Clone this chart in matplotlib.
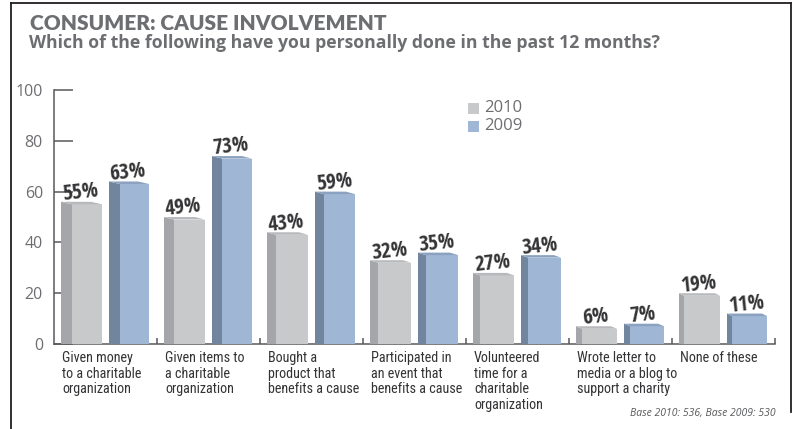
import matplotlib
matplotlib.use("Agg")
import matplotlib.pyplot as plt
import matplotlib.font_manager as fm
from matplotlib.font_manager import FontProperties
from matplotlib.patches import Polygon, Rectangle
from matplotlib.lines import Line2D
import matplotlib.transforms as mtransforms

# ---- data ----
categories = [
    "Given money\nto a charitable\norganization",
    "Given items to\na charitable\norganization",
    "Bought a\nproduct that\nbenefits a cause",
    "Participated in\nan event that\nbenefits a cause",
    "Volunteered\ntime for a\ncharitable\norganization",
    "Wrote letter to\nmedia or a blog to\nsupport a charity",
    "None of these",
]
values_2010 = [55, 49, 43, 32, 27, 6, 19]
values_2009 = [63, 73, 59, 35, 34, 7, 11]
series_names = ["2010", "2009"]
yticks = [0, 20, 40, 60, 80, 100]

title = "CONSUMER: CAUSE INVOLVEMENT"
subtitle = "Which of the following have you personally done in the past 12 months?"
footnote = "Base 2010: 536, Base 2009: 530"

# ---- styling ----
W, H = 793, 429
DPI = 100
GRAY_TXT = "#6d6e71"
DARK_TXT = "#333335"
AXIS_COL = "#58595b"
COLORS = {
    "2010": dict(front="#c8c9cb", side="#a5a6a9", top="#b8b9bc"),
    "2009": dict(front="#9fb7d5", side="#71859e", top="#8aa1bf"),
}


def narrow_font(bold):
    """Pick an installed condensed sans face, falling back to Roboto."""
    prefs = ["liberation sans narrow", "noto sans", "open sans", "roboto",
             "dejavu sans", "lato", "inter"]
    best = None
    for f in fm.fontManager.ttflist:
        name = f.name.lower()
        path = f.fname.lower()
        if "mono" in name or "serif" in name or "cjk" in name or "italic" in path \
                or "oblique" in path:
            continue
        cond = (str(f.stretch) in ("condensed", "semi-condensed")
                or "narrow" in name or "narrow" in path
                or ("condensed" in path and "extra" not in path and "ultra" not in path))
        if not cond:
            continue
        w = f.weight if isinstance(f.weight, int) else (700 if "bold" in str(f.weight) else 400)
        if bold and not (600 <= w <= 800):
            continue
        if not bold and w != 400:
            continue
        rank = next((k for k, p in enumerate(prefs) if name.startswith(p)), len(prefs))
        if best is None or rank < best[0]:
            best = (rank, f.fname)
    if best:
        return FontProperties(fname=best[1])
    return FontProperties(family=["Roboto", "DejaVu Sans"],
                          weight="bold" if bold else "normal")


NARROW = narrow_font(False)
NARROW_B = narrow_font(True)
SANS = FontProperties(family=["Open Sans", "DejaVu Sans"])
SANS_B = FontProperties(family=["Open Sans", "DejaVu Sans"], weight="bold")
SANS_I = FontProperties(family=["Open Sans", "DejaVu Sans"], style="italic")
HEAVY = FontProperties(family=["Lato", "Open Sans", "DejaVu Sans"], weight="heavy")

fig = plt.figure(figsize=(W / DPI, H / DPI), dpi=DPI)
fig.patch.set_facecolor("white")
renderer = fig.canvas.get_renderer()


def sized(fp, sample, target_px, base=12.0):
    """Return a copy of fp sized so that `sample` spans target_px pixels."""
    p = fp.copy()
    p.set_size(base)
    w, _, _ = renderer.get_text_width_height_descent(sample, p, ismath=False)
    p.set_size(base * target_px / w)
    return p


# axes placed in pixel terms
ax_l, ax_r, ax_top, ax_bot = 54, 775, 90, 344
ax = fig.add_axes([ax_l / W, 1 - ax_bot / H, (ax_r - ax_l) / W, (ax_bot - ax_top) / H])
ax.set_xlim(0, len(categories))
ax.set_ylim(0, 100)
ax.set_facecolor("none")

px_x = len(categories) / (ax_r - ax_l)   # data units per pixel (x)
px_y = 100 / (ax_bot - ax_top)           # data units per pixel (y)

for s in ["top", "right"]:
    ax.spines[s].set_visible(False)
for s in ["left", "bottom"]:
    ax.spines[s].set_color(AXIS_COL)
    ax.spines[s].set_linewidth(1.1)

tick_fp = SANS.copy()
tick_fp.set_size(11.5)
ax.set_yticks(yticks)
ax.set_yticklabels([str(v) for v in yticks], fontproperties=tick_fp, color=GRAY_TXT)
ax.tick_params(axis="y", direction="in", length=14, width=1.1, color=AXIS_COL, pad=8)
ax.set_xticks(range(1, len(categories) + 1))
ax.set_xticklabels([])
ax.tick_params(axis="x", direction="in", length=4, width=1.1, color=AXIS_COL)


def draw_bar(x_left, x_right, h, side_px, cols):
    s = side_px * px_x
    dy = 2.5 * px_y
    front = Rectangle((x_left + s, 0), x_right - x_left - s, h,
                      facecolor=cols["front"], edgecolor="none", zorder=3)
    side = Polygon([(x_left, 0), (x_left + s, 0), (x_left + s, h), (x_left, h + dy)],
                   closed=True, facecolor=cols["side"], edgecolor="none", zorder=3)
    top = Polygon([(x_left + s, h), (x_right, h), (x_right - s, h + dy), (x_left, h + dy)],
                  closed=True, facecolor=cols["top"], edgecolor="none", zorder=3)
    for p in (front, side, top):
        ax.add_patch(p)


value_fp = sized(NARROW_B, "55%", 36)
cat_px = (ax_r - ax_l) / len(categories)
offsets = {"2010": (7, 48), "2009": (55, 95)}
for i in range(len(categories)):
    side_px = 11 - i
    for name, vals in zip(series_names, [values_2010, values_2009]):
        a, b = offsets[name]
        xl = i + a / cat_px
        xr = i + b / cat_px
        v = vals[i]
        draw_bar(xl, xr, v, side_px, COLORS[name])
        ax.text((xl + xr) / 2, v + 1.0 * px_y, f"{v}%", ha="center", va="bottom",
                rotation=6, rotation_mode="anchor", fontproperties=value_fp,
                color=DARK_TXT, zorder=5)

# category labels under the axis
cat_fp = sized(NARROW, "to a charitable", 80)
_, lp_h, lp_d = renderer.get_text_width_height_descent("lp", cat_fp, ismath=False)
cat_ls = (15.7 - lp_d) / (lp_h - lp_d)
trans = mtransforms.blended_transform_factory(ax.transData, ax.transAxes)
for i, lab in enumerate(categories):
    ax.text(i + 8 / cat_px, -(351 - ax_bot) / (ax_bot - ax_top), lab, transform=trans,
            ha="left", va="top", fontproperties=cat_fp, color=DARK_TXT,
            linespacing=cat_ls)

# legend
leg_fp = SANS.copy()
leg_fp.set_size(12)
for k, name in enumerate(series_names):
    y0 = 103 + k * 18
    fig.patches.append(Rectangle((468 / W, 1 - (y0 + 11) / H), 11 / W, 11 / H,
                                 transform=fig.transFigure,
                                 facecolor=COLORS[name]["front"], edgecolor="none"))
    fig.text(484 / W, 1 - (y0 + 5.5) / H, name, ha="left", va="center",
             fontproperties=leg_fp, color=GRAY_TXT)

# titles and footnote
fig.text(30 / W, 1 - 30 / H, title, ha="left", va="baseline",
         fontproperties=sized(HEAVY, title, 356), color=GRAY_TXT)
fig.text(29 / W, 1 - 48 / H, subtitle, ha="left", va="baseline",
         fontproperties=sized(SANS_B, subtitle, 629), color=GRAY_TXT)
foot_fp = SANS_I.copy()
foot_fp.set_size(7.5)
fig.text(776 / W, 1 - 416 / H, footnote, ha="right", va="baseline",
         fontproperties=foot_fp, color=AXIS_COL)

# outer frame
frame_kw = dict(color="#231f20", linewidth=1.3, transform=fig.transFigure)
fig.add_artist(Line2D([11 / W, 11 / W], [0, 1 - 3 / H], **frame_kw))
fig.add_artist(Line2D([11 / W, 791 / W], [1 - 3 / H, 1 - 3 / H], **frame_kw))
fig.add_artist(Line2D([791 / W, 791 / W], [1 - 3 / H, 1 - 412 / H], **frame_kw))

fig.savefig("out.png", dpi=DPI, facecolor="white")
